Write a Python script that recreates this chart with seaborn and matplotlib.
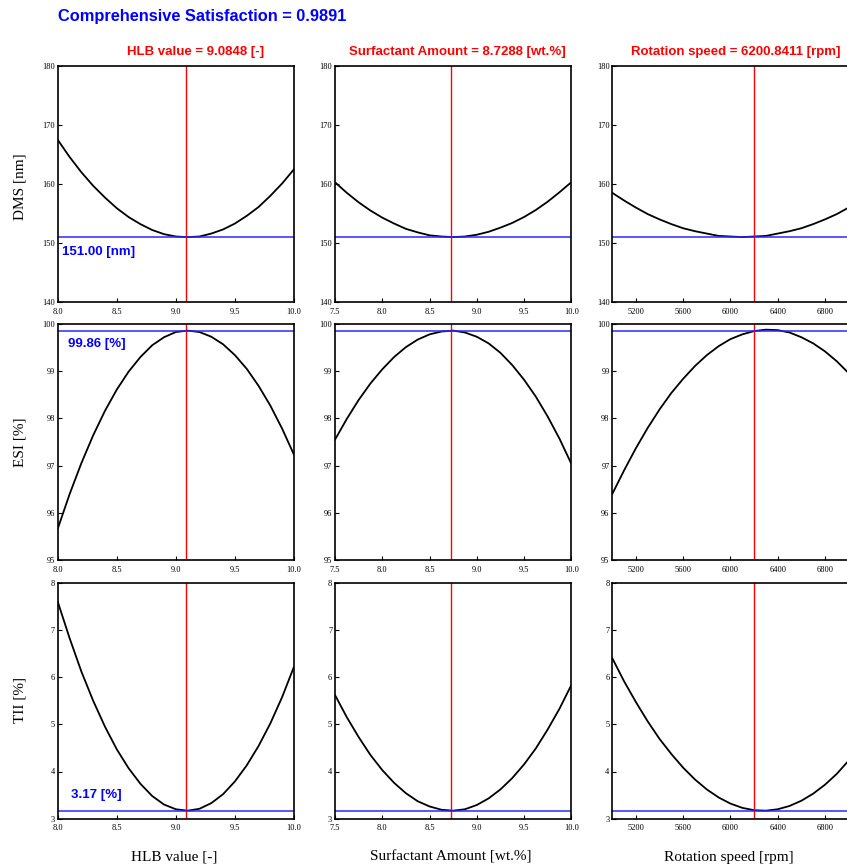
import numpy as np
import pandas as pd
import matplotlib
matplotlib.use("Agg")
import matplotlib.pyplot as plt
import seaborn as sns

# ---------------- data ----------------
satisfaction = 0.9891
factor_names = ["HLB value", "Surfactant Amount", "Rotation speed"]
factor_units = ["[-]", "[wt.%]", "[rpm]"]
factor_opt = [9.0848, 8.7288, 6200.8411]
factor_xlim = [(8.0, 10.0), (7.5, 10.0), (5000, 7000)]
factor_xticks = [[8.0, 8.5, 9.0, 9.5, 10.0],
                 [7.5, 8.0, 8.5, 9.0, 9.5, 10.0],
                 [5200, 5600, 6000, 6400, 6800]]

response_names = ["DMS [nm]", "ESI [%]", "TII [%]"]
response_opt = [151.00, 99.86, 3.17]
response_opt_text = ["151.00 [nm]", "99.86 [%]", "3.17 [%]"]
response_ylim = [(140, 180), (95, 100), (3, 8)]
response_yticks = [[140, 150, 160, 170, 180],
                   [95, 96, 97, 98, 99, 100],
                   [3, 4, 5, 6, 7, 8]]

hlb_x = [8.0, 8.1, 8.2, 8.3, 8.4, 8.5, 8.6, 8.7, 8.8, 8.9, 9.0,
         9.1, 9.2, 9.3, 9.4, 9.5, 9.6, 9.7, 9.8, 9.9, 10.0]
surf_x = [7.5, 7.625, 7.75, 7.875, 8.0, 8.125, 8.25, 8.375, 8.5, 8.625, 8.75,
          8.875, 9.0, 9.125, 9.25, 9.375, 9.5, 9.625, 9.75, 9.875, 10.0]
rot_x = [5000, 5100, 5200, 5300, 5400, 5500, 5600, 5700, 5800, 5900, 6000,
         6100, 6200, 6300, 6400, 6500, 6600, 6700, 6800, 6900, 7000]

dms_hlb = [167.5, 164.6, 162.0, 159.7, 157.7, 155.9, 154.4, 153.2, 152.2, 151.5, 151.1,
           151.0, 151.1, 151.6, 152.3, 153.3, 154.6, 156.1, 158.0, 160.1, 162.5]
dms_surf = [160.3, 158.5, 156.9, 155.5, 154.3, 153.3, 152.4, 151.8, 151.3, 151.1, 151.0,
            151.1, 151.4, 151.9, 152.6, 153.4, 154.4, 155.6, 157.0, 158.6, 160.3]
dms_rot = [158.5, 157.2, 156.0, 154.9, 154.0, 153.2, 152.5, 152.0, 151.6, 151.2, 151.1,
           151.0, 151.1, 151.2, 151.6, 152.0, 152.5, 153.2, 154.0, 154.9, 156.0]

esi_hlb = [95.66, 96.39, 97.05, 97.64, 98.16, 98.61, 98.99, 99.30, 99.55, 99.72, 99.83,
           99.86, 99.83, 99.73, 99.57, 99.34, 99.05, 98.69, 98.27, 97.78, 97.23]
esi_surf = [97.55, 97.99, 98.39, 98.74, 99.04, 99.30, 99.51, 99.67, 99.78, 99.84, 99.86,
            99.82, 99.73, 99.59, 99.39, 99.13, 98.82, 98.46, 98.04, 97.57, 97.04]
esi_rot = [96.40, 96.90, 97.37, 97.80, 98.19, 98.54, 98.84, 99.11, 99.34, 99.53, 99.68,
           99.78, 99.85, 99.88, 99.87, 99.82, 99.72, 99.59, 99.42, 99.21, 98.96]

tii_hlb = [7.60, 6.83, 6.12, 5.50, 4.95, 4.47, 4.07, 3.74, 3.48, 3.30, 3.20,
           3.17, 3.21, 3.33, 3.52, 3.79, 4.13, 4.54, 5.02, 5.58, 6.22]
tii_surf = [5.62, 5.15, 4.73, 4.35, 4.03, 3.76, 3.54, 3.37, 3.26, 3.19, 3.17,
            3.20, 3.29, 3.43, 3.62, 3.86, 4.15, 4.49, 4.89, 5.33, 5.83]
tii_rot = [6.40, 5.91, 5.47, 5.06, 4.69, 4.37, 4.08, 3.83, 3.62, 3.45, 3.32,
           3.23, 3.18, 3.17, 3.20, 3.27, 3.38, 3.53, 3.72, 3.95, 4.23]

factor_x = [hlb_x, surf_x, rot_x]
curves = [[dms_hlb, dms_surf, dms_rot],
          [esi_hlb, esi_surf, esi_rot],
          [tii_hlb, tii_surf, tii_rot]]

# ---------------- style ----------------
sns.set_theme(style="white")
plt.rcParams["font.family"] = ["Liberation Serif", "DejaVu Serif"]
plt.rcParams["axes.edgecolor"] = "black"
plt.rcParams["axes.linewidth"] = 1.2

W, H = 847, 866
fig = plt.figure(figsize=(W / 100, H / 100), dpi=100)

col_left = [57.7, 335.0, 612.3]
ax_w = 236.3
row_bottom = [302.0, 560.0, 818.7]
ax_h = 236.0

text_pos = [(0.017, 0.21), (0.044, 0.917), (0.055, 0.10)]
sans = ["Liberation Sans", "DejaVu Sans"]

for r in range(3):
    for c in range(3):
        ax = fig.add_axes([col_left[c] / W, 1 - row_bottom[r] / H, ax_w / W, ax_h / H])
        df = pd.DataFrame({"x": factor_x[c], "y": curves[r][c]})
        sns.lineplot(data=df, x="x", y="y", ax=ax, color="black", linewidth=1.3)
        ax.axvline(factor_opt[c], color="red", linewidth=1.0)
        ax.axhline(response_opt[r], color="#2a2aff", linewidth=1.3, alpha=0.85)
        ax.set_xlim(*factor_xlim[c])
        ax.set_ylim(*response_ylim[r])
        ax.set_xticks(factor_xticks[c])
        ax.set_yticks(response_yticks[r])
        if c == 2:
            ax.set_xticklabels([str(v) for v in factor_xticks[c]])
        else:
            ax.set_xticklabels([f"{v:.1f}" for v in factor_xticks[c]])
        ax.set_yticklabels([str(v) for v in response_yticks[r]])
        ax.tick_params(direction="in", length=3, width=0.8, labelsize=6, pad=2,
                       colors="black", left=True, bottom=True)
        ax.tick_params(axis="x", pad=4)
        ax.set_xlabel("")
        ax.set_ylabel("")
        for s in ax.spines.values():
            s.set_color("black")
            s.set_linewidth(1.2)
        if c == 0:
            tx, ty = text_pos[r]
            ax.text(tx, ty, response_opt_text[r], transform=ax.transAxes,
                    color="blue", fontsize=9.5, fontweight="bold", family=sans,
                    ha="left", va="center")

# titles
fig.text(58 / W, 1 - 17 / H, f"Comprehensive Satisfaction = {satisfaction:.4f}",
         color="blue", fontsize=11.8, fontweight="bold", family=sans,
         ha="left", va="center")
title_cx = [196, 457, 736]
for c in range(3):
    fig.text(title_cx[c] / W, 1 - 52 / H,
             f"{factor_names[c]} = {factor_opt[c]:.4f} {factor_units[c]}",
             color="red", fontsize=9.5, fontweight="bold", family=sans,
             ha="center", va="center")
    fig.text((col_left[c] + ax_w / 2 - 2) / W, 1 - 857 / H,
             f"{factor_names[c]} {factor_units[c]}",
             fontsize=11, ha="center", va="center", color="black")

ylabel_cy = [187, 442, 700]
for r in range(3):
    fig.text(20 / W, 1 - ylabel_cy[r] / H, response_names[r], rotation=90,
             fontsize=11, ha="center", va="center", color="black")

fig.savefig("out.png", dpi=100)
